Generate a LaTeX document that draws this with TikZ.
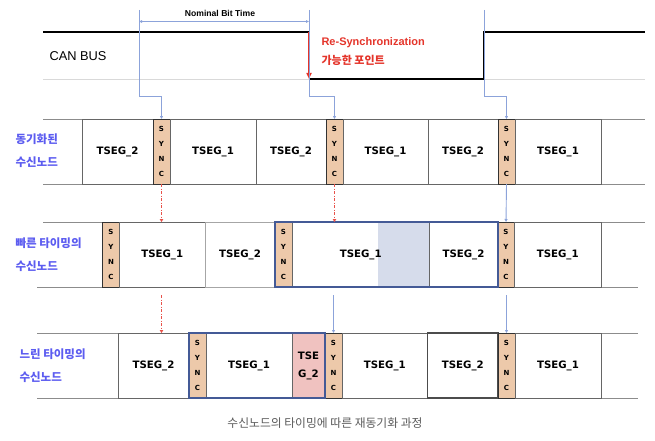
\documentclass[tikz,border=0pt]{standalone}
\usepackage{fontspec}
\setmainfont{Liberation Sans}
\newfontfamily\kr{Noto Sans CJK KR}
\newfontfamily\segfont{DejaVu Sans}
\usetikzlibrary{positioning,arrows.meta,backgrounds}

\definecolor{synctan}{RGB}{237,201,170}
\definecolor{latepink}{RGB}{240,194,192}
\definecolor{shadeblue}{RGB}{214,220,235}
\definecolor{boxblue}{RGB}{68,90,150}
\definecolor{conblue}{RGB}{140,163,218}
\definecolor{resred}{RGB}{228,52,42}
\definecolor{labelblue}{RGB}{92,92,240}

\tikzset{
    rowline/.style={black!45, line width=0.8pt},
    cell/.style={draw=black!60, line width=0.8pt, minimum height=65pt, inner sep=0pt, outer sep=0pt, font=\segfont\bfseries\fontsize{10.2}{13}\selectfont},
    sync/.style={cell, draw=black!80, fill=synctan, minimum width=17pt, align=center, font=\segfont\bfseries\fontsize{7}{15}\selectfont},
    selbox/.style={draw=boxblue, line width=2pt},
    bluecon/.style={conblue, line width=0.9pt, -{Triangle[length=3pt,width=3pt]}},
    redcon/.style={resred!85, line width=1pt, dash pattern=on 3pt off 1.5pt on 1pt off 1.5pt, -{Triangle[length=3pt,width=3.5pt]}},
    rowlabel/.style={anchor=west, align=left, text=labelblue, font=\kr\bfseries\fontsize{11.5}{23}\selectfont}
}

\begin{document}
\begin{tikzpicture}[x=1pt, y=-1pt]
    \useasboundingbox (0,0) rectangle (655,441);

    % CAN bus
    \draw[black!15, line width=0.8pt] (43,79) -- (645,79);
    \draw[line width=1.8pt] (43,32) -- (309,32);
    \draw[line width=1.8pt] (309,79) -- (484,79) -- (484,32) -- (645,32);
    \node[anchor=west, font=\fontsize{12.8}{15}\selectfont] (canbus) at (46,56) {CAN BUS};

    \coordinate (t0) at (139,10);
    \coordinate (t1) at (309,10);
    \coordinate (t2) at (484,10);
    \coordinate (fall) at (309,32);
    \coordinate (low) at (309,79);

    \draw[resred, line width=1.5pt, -{Triangle[length=6pt,width=5pt]}] (fall) -- (low);
    \node[anchor=west, align=left, text=resred, font=\bfseries\fontsize{11}{19}\selectfont] (resync) at (318,52)
        {Re-Synchronization\\{\kr\bfseries 가능한 포인트}};

    % nominal bit time
    \draw[conblue, line width=0.8pt, {Triangle[length=3pt,width=2.5pt]}-{Triangle[length=3pt,width=2.5pt]}] (139,21.5) -- (309,21.5);
    \node[font=\bfseries\fontsize{8.6}{10}\selectfont] (nbt) at (220,13.5) {Nominal Bit Time};

    % row lines
    \draw[rowline] (43,119) -- (645,119);
    \draw[rowline] (43,184) -- (645,184);
    \draw[rowline] (43,222) -- (645,222);
    \draw[rowline] (37,287) -- (638,287);
    \draw[rowline] (37,333) -- (638,333);
    \draw[rowline] (37,398) -- (638,398);

    % synchronized node
    \node[rowlabel] (lab1) at (12,151) {동기화된\\수신노드};
    \node[cell, minimum width=71pt, anchor=north west] (r1a) at (82,119) {TSEG\_2};
    \node[sync, right=0pt of r1a] (r1s1) {S\\Y\\N\\C};
    \node[cell, minimum width=86pt, right=0pt of r1s1] (r1b) {TSEG\_1};
    \node[cell, minimum width=70pt, right=0pt of r1b] (r1c) {TSEG\_2};
    \node[sync, right=0pt of r1c] (r1s2) {S\\Y\\N\\C};
    \node[cell, minimum width=85pt, right=0pt of r1s2] (r1d) {TSEG\_1};
    \node[cell, minimum width=70pt, right=0pt of r1d] (r1e) {TSEG\_2};
    \node[sync, right=0pt of r1e] (r1s3) {S\\Y\\N\\C};
    \node[cell, minimum width=86pt, right=0pt of r1s3] (r1f) {TSEG\_1};

    % fast node
    \node[rowlabel] (lab2) at (12,254.5) {빠른 타이밍의\\수신노드};
    \node[sync, anchor=north west] (r2s1) at (102.5,222) {S\\Y\\N\\C};
    \node[cell, minimum width=85.5pt, right=0pt of r2s1] (r2a) {TSEG\_1};
    \node[cell, draw=black!35, minimum width=70pt, right=0pt of r2a] (r2b) {TSEG\_2};
    \node[sync, right=0pt of r2b] (r2s2) {S\\Y\\N\\C};
    \node[cell, minimum width=137.5pt, right=0pt of r2s2] (r2c) {TSEG\_1};
    \node[cell, minimum width=68pt, right=0pt of r2c] (r2d) {TSEG\_2};
    \node[sync, right=0pt of r2d] (r2s3) {S\\Y\\N\\C};
    \node[cell, minimum width=86.5pt, right=0pt of r2s3] (r2e) {TSEG\_1};
    \begin{scope}[on background layer]
        \fill[shadeblue] ([xshift=-52pt]r2c.north east) rectangle (r2c.south east);
    \end{scope}
    \draw[selbox] (r2s2.north west) rectangle (r2d.south east);

    % slow node
    \node[rowlabel] (lab3) at (16,365.5) {느린 타이밍의\\수신노드};
    \node[cell, minimum width=71pt, anchor=north west] (r3a) at (118,333) {TSEG\_2};
    \node[sync, right=0pt of r3a] (r3s1) {S\\Y\\N\\C};
    \node[cell, minimum width=86pt, right=0pt of r3s1] (r3b) {TSEG\_1};
    \node[cell, fill=latepink, minimum width=33pt, align=center, font=\segfont\bfseries\fontsize{10.2}{18}\selectfont, right=0pt of r3b] (r3c) {TSE\\G\_2};
    \node[sync, right=0pt of r3c] (r3s2) {S\\Y\\N\\C};
    \node[cell, minimum width=85.6pt, right=0pt of r3s2] (r3d) {TSEG\_1};
    \node[cell, draw=black!70, line width=1.5pt, minimum width=70.4pt, right=0pt of r3d] (r3e) {TSEG\_2};
    \node[sync, right=0pt of r3e] (r3s3) {S\\Y\\N\\C};
    \node[cell, minimum width=86pt, right=0pt of r3s3] (r3f) {TSEG\_1};
    \draw[selbox] (r3s1.north west) rectangle (r3c.south east);

    % edges to sync segments
    \draw[bluecon] (t0) -- ++(0,86) -| (r1s1.north);
    \draw[bluecon] (t1) -- ++(0,86) -| (r1s2.north);
    \draw[bluecon] (t2) -- ++(0,86) -| (r1s3.north);

    \draw[redcon] (r1s1.south) -- (r1s1.south |- r2a.north);
    \draw[redcon] (r1s2.south) -- (r1s2.south |- r2c.north);
    \draw[bluecon] (r1s3.south) -- (r2s3.north);

    \draw[redcon] (r1s1 |- 0,295) -- (r1s1 |- r3a.north);
    \draw[bluecon] (r3s2 |- 0,295) -- (r3s2.north);
    \draw[bluecon] (r3s3 |- 0,295) -- (r3s3.north);

    \node[text=black!65, font=\kr\fontsize{11.8}{14}\selectfont] (cap) at (325,423) {수신노드의 타이밍에 따른 재동기화 과정};
\end{tikzpicture}
\end{document}
